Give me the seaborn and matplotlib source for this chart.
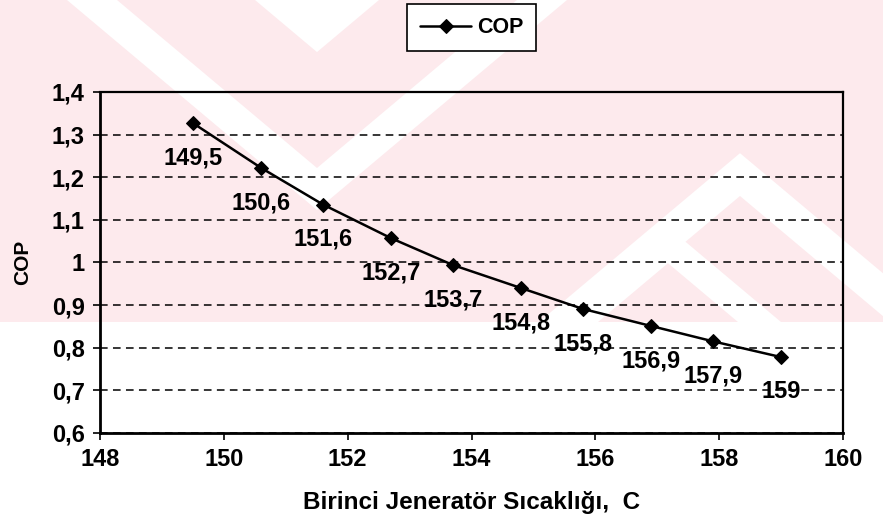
import pandas as pd
import seaborn as sns
import matplotlib.pyplot as plt
from matplotlib.patches import Polygon, Rectangle

# data
temps = [149.5, 150.6, 151.6, 152.7, 153.7, 154.8, 155.8, 156.9, 157.9, 159.0]
cop = [1.327, 1.222, 1.136, 1.057, 0.994, 0.940, 0.891, 0.851, 0.815, 0.778]
point_labels = ["149,5", "150,6", "151,6", "152,7", "153,7",
                "154,8", "155,8", "156,9", "157,9", "159"]
x_ticks = [148, 150, 152, 154, 156, 158, 160]
y_ticks = [0.6, 0.7, 0.8, 0.9, 1.0, 1.1, 1.2, 1.3, 1.4]
y_tick_labels = ["0,6", "0,7", "0,8", "0,9", "1", "1,1", "1,2", "1,3", "1,4"]

PINK = "#fdeaed"


def v_band(ax, xc, h_out, h_in, k=0.84, base=0.0, up=False):
    """white chevron of the scanned watermark (pixel coords)"""
    s = -1 if up else 1
    pts = [(xc - h_out, base), (xc, base + s * h_out * k), (xc + h_out, base),
           (xc + h_in, base), (xc, base + s * h_in * k), (xc - h_in, base)]
    ax.add_patch(Polygon(pts, closed=True, color="white", lw=0))


def draw_watermark(fig):
    bg = fig.add_axes([0, 0, 1, 1], zorder=0)
    bg.set_xlim(0, 883)
    bg.set_ylim(531, 0)
    bg.axis("off")
    bg.add_patch(Rectangle((0, 0), 883, 322, color=PINK, lw=0))
    v_band(bg, 317, 62, 0)
    v_band(bg, 317, 250, 200)
    v_band(bg, 740, 201, 150, base=322, up=True)
    v_band(bg, 668, 113, 70, base=322, up=True)
    # keep the white outside the pink band
    bg.add_patch(Rectangle((0, 322), 883, 209, color="white", lw=0))


def main() -> None:
    sns.set_style("white")
    plt.rcParams["font.family"] = ["Liberation Sans", "DejaVu Sans"]
    plt.rcParams["font.weight"] = "bold"
    plt.rcParams["text.color"] = "black"
    plt.rcParams["axes.labelcolor"] = "black"
    plt.rcParams["xtick.color"] = "black"
    plt.rcParams["ytick.color"] = "black"

    fig = plt.figure(figsize=(8.83, 5.31), dpi=100)
    draw_watermark(fig)

    ax = fig.add_axes([0.1133, 0.1846, 0.8414, 0.6422], zorder=1)
    ax.patch.set_alpha(0)

    df = pd.DataFrame({"temp": temps, "cop": cop})
    sns.lineplot(data=df, x="temp", y="cop", ax=ax, color="black", lw=1.8,
                 marker="D", markersize=7.5, markeredgecolor="black",
                 label="COP")

    for x, y, lab in zip(temps, cop, point_labels):
        ax.annotate(lab, (x, y), xytext=(0, -25), textcoords="offset points",
                    ha="center", va="center", fontsize=17, fontweight="bold")

    ax.set_xlim(148, 160)
    ax.set_ylim(0.6, 1.4)
    ax.set_xticks(x_ticks)
    ax.set_xticklabels([str(t) for t in x_ticks])
    ax.set_yticks(y_ticks)
    ax.set_yticklabels(y_tick_labels)
    ax.yaxis.grid(True, color="black", linestyle=(0, (5, 3.5)), lw=1.1)
    ax.xaxis.grid(False)

    for side in ["left", "bottom"]:
        ax.spines[side].set_color("black")
        ax.spines[side].set_linewidth(2)
    for side in ["top", "right"]:
        ax.spines[side].set_color("black")
        ax.spines[side].set_linewidth(1.6)

    ax.tick_params(axis="both", bottom=True, left=True, direction="out",
                   length=5, width=1.2, color="black", labelsize=17, pad=6)

    ax.set_xlabel("Birinci Jeneratör Sıcaklığı,  C", fontsize=17.5,
                  fontweight="bold", labelpad=14)
    ax.set_ylabel("COP", fontsize=15, fontweight="bold", labelpad=14)

    ax.legend(loc="center", bbox_to_anchor=(0.534, 0.948),
              bbox_transform=fig.transFigure, fontsize=15.5, frameon=True,
              fancybox=False, edgecolor="black", framealpha=1,
              facecolor="white", handlelength=2.4, handletextpad=0.25,
              borderpad=0.6, borderaxespad=0)
    ax.get_legend().get_frame().set_linewidth(1.2)

    fig.savefig("out.png", dpi=100)


if __name__ == "__main__":
    main()
